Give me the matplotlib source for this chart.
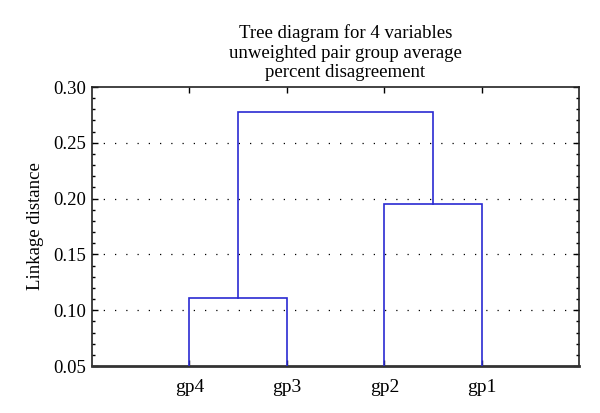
import matplotlib
matplotlib.use("Agg")
import matplotlib.pyplot as plt
from matplotlib.ticker import MultipleLocator

# Data
leaf_labels = ["gp4", "gp3", "gp2", "gp1"]
# merges: (left member, right member, linkage distance); members are leaf
# labels or "c<k>" for the k-th previous cluster
merge_left = ["gp4", "gp2", "c0"]
merge_right = ["gp3", "gp1", "c1"]
merge_height = [0.111, 0.195, 0.278]

y_min, y_max = 0.05, 0.30
y_ticks = [0.05, 0.10, 0.15, 0.20, 0.25, 0.30]

plt.rcParams['font.family'] = ['Liberation Serif', 'DejaVu Serif']

fig = plt.figure(figsize=(6.0, 4.13), dpi=100)
ax = fig.add_axes([0.1533, 0.1138, 0.8125, 0.6755])

line_color = '#2a2ad2'
pos = {lab: (i + 1, y_min) for i, lab in enumerate(leaf_labels)}
for k, (l, r, h) in enumerate(zip(merge_left, merge_right, merge_height)):
    xl, yl = pos[l]
    xr, yr = pos[r]
    ax.plot([xl, xl, xr, xr], [yl, h, h, yr], color=line_color, lw=1.2,
            solid_joinstyle='miter', zorder=3)
    pos["c%d" % k] = ((xl + xr) / 2, h)

ax.set_xlim(0, len(leaf_labels) + 1)
ax.set_ylim(y_min, y_max)
ax.set_xticks(range(1, len(leaf_labels) + 1))
ax.set_xticklabels(leaf_labels)
ax.set_yticks(y_ticks)
ax.set_yticklabels(["%.2f" % v for v in y_ticks])
ax.yaxis.set_minor_locator(MultipleLocator(0.01))

ax.tick_params(axis='both', which='both', direction='in', top=True, right=True,
               colors='black')
ax.tick_params(axis='x', which='major', length=4, width=1, pad=9, labelsize=14)
ax.tick_params(axis='y', which='major', length=4, width=1, pad=4, labelsize=13.5)
ax.tick_params(axis='y', which='minor', length=2.5, width=1)

for y in y_ticks[1:-1]:
    ax.axhline(y, color='black', lw=0.9, linestyle=(0, (1, 8)), zorder=1)

for s in ['left', 'top', 'right']:
    ax.spines[s].set_linewidth(1.2)
    ax.spines[s].set_color('#222222')
ax.spines['bottom'].set_linewidth(2.0)
ax.spines['bottom'].set_color('#333333')

ax.set_ylabel("Linkage distance", fontsize=13.5, labelpad=7)
ax.set_title("Tree diagram for 4 variables\nunweighted pair group average\npercent disagreement",
             fontsize=13.5, linespacing=1.2, pad=7, x=0.52)

fig.savefig("out.png", dpi=100)
